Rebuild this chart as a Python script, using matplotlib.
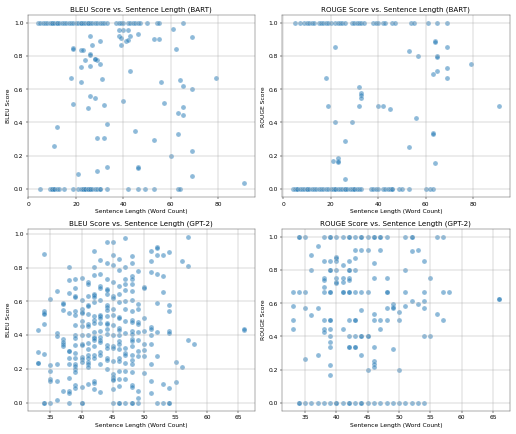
import matplotlib
matplotlib.use('Agg')
import matplotlib.pyplot as plt
import numpy as np

# ---- BART, BLEU ----
# lengths of sentences that scored exactly 1.0 / 0.0
bart_bleu_len_one = [4, 5, 6, 7, 8, 9, 10, 10, 11, 12, 12, 13, 14, 15, 16, 17, 18, 19, 20, 21, 22, 22,
                     23, 24, 25, 25, 26, 27, 28, 29, 30, 31, 32, 33, 37, 38, 39, 40, 42, 43, 44, 45,
                     46, 47, 50, 54, 55, 65]
bart_bleu_len_zero = [5, 9, 10, 10, 11, 11, 12, 13, 15, 19, 21, 22, 23, 23, 24, 24, 25, 25, 26, 26, 27,
                      28, 29, 30, 30, 33, 42, 46, 49, 53, 63, 64]
bart_bleu_len_mid = [61, 69, 26, 38, 40, 42, 46, 38, 39, 43, 41, 42, 39, 53, 55, 30, 27, 19, 19, 22, 23,
                     26, 26, 62, 28, 29, 28, 24, 30, 22, 26, 43, 18, 31, 79, 64, 22, 56, 65, 69, 26,
                     28, 40, 57, 19, 32, 65, 25, 63, 65, 33, 12, 45, 63, 29, 32, 53, 11, 69, 60, 33,
                     46, 46, 29, 21, 69, 91]
bart_bleu_score_mid = [0.963, 0.915, 0.92, 0.955, 0.955, 0.955, 0.935, 0.92, 0.91, 0.92, 0.89, 0.895,
                       0.87, 0.905, 0.905, 0.89, 0.87, 0.85, 0.843, 0.84, 0.835, 0.815, 0.81, 0.843,
                       0.785, 0.775, 0.78, 0.775, 0.755, 0.735, 0.74, 0.71, 0.67, 0.665, 0.668, 0.655,
                       0.645, 0.645, 0.623, 0.602, 0.558, 0.548, 0.532, 0.52, 0.509, 0.505, 0.495,
                       0.487, 0.455, 0.447, 0.392, 0.37, 0.35, 0.333, 0.308, 0.308, 0.296, 0.257,
                       0.23, 0.2, 0.13, 0.13, 0.127, 0.11, 0.087, 0.077, 0.035]

# ---- BART, ROUGE ----
bart_rouge_len_one = [5, 7, 9, 10, 11, 12, 13, 15, 16, 17, 18, 19, 20, 22, 23, 24, 25, 26, 29, 30, 31,
                      32, 33, 34, 38, 39, 40, 42, 43, 46, 47, 54, 55, 61, 65, 69]
bart_rouge_len_zero = [4, 5, 6, 6, 7, 8, 9, 10, 10, 11, 12, 13, 14, 15, 16, 17, 18, 19, 20, 21, 22, 22,
                       23, 24, 25, 26, 26, 27, 28, 29, 30, 30, 31, 32, 33, 37, 38, 39, 40, 42, 43, 44,
                       45, 46, 46, 49, 50, 53, 60, 62, 63]
bart_rouge_len_mid = [64, 64, 22, 53, 57, 65, 65, 69, 79, 69, 65, 63, 69, 18, 32, 33, 33, 33, 19, 32,
                      40, 42, 45, 91, 56, 22, 29, 63, 63, 26, 53, 21, 23, 23, 23, 64, 26]
bart_rouge_score_mid = [0.89, 0.885, 0.855, 0.834, 0.80, 0.80, 0.797, 0.855, 0.75, 0.727, 0.712, 0.694,
                        0.667, 0.667, 0.615, 0.577, 0.563, 0.549, 0.5, 0.5, 0.5, 0.5, 0.482, 0.5,
                        0.428, 0.4, 0.4, 0.335, 0.332, 0.287, 0.253, 0.17, 0.184, 0.17, 0.163, 0.153,
                        0.06]

# ---- GPT-2, BLEU ----
gpt2_bleu_len = ([33] * 4 + [34] * 8 + [35] * 6 + [36] * 6 + [37] * 8 + [38] * 12 + [39] * 18
                 + [40] * 16 + [41] * 17 + [42] * 20 + [43] * 17 + [44] * 19 + [45] * 19 + [46] * 20
                 + [47] * 16 + [48] * 23 + [49] * 12 + [50] * 8 + [51] * 10 + [52] * 8 + [53] * 5
                 + [54] * 8 + [55] * 2 + [56] * 2 + [57] * 3 + [58] + [66] * 2)
gpt2_bleu_score = [
    0.433, 0.298, 0.232, 0.236,
    0.882, 0.54, 0.532, 0.526, 0.468, 0.29, 0.0, 0.0,
    0.611, 0.222, 0.19, 0.143, 0.128, 0.0,
    0.663, 0.412, 0.395, 0.228, 0.128, 0.014,
    0.588, 0.584, 0.549, 0.375, 0.362, 0.35, 0.337, 0.068,
    0.805, 0.725, 0.65, 0.532, 0.308, 0.304, 0.263, 0.23, 0.147, 0.072, 0.058, 0.0,
    0.733, 0.681, 0.629, 0.623, 0.545, 0.52, 0.462, 0.4, 0.385, 0.342, 0.292, 0.263, 0.228,
    0.219, 0.197, 0.182, 0.103, 0.087,
    0.739, 0.605, 0.557, 0.534, 0.528, 0.482, 0.451, 0.402, 0.346, 0.34, 0.273, 0.259, 0.242,
    0.093, 0.0, 0.0,
    0.712, 0.702, 0.629, 0.578, 0.571, 0.522, 0.464, 0.455, 0.402, 0.354, 0.315, 0.28, 0.265,
    0.238, 0.228, 0.211, 0.112,
    0.899, 0.803, 0.754, 0.642, 0.636, 0.625, 0.594, 0.511, 0.491, 0.47, 0.42, 0.387, 0.381,
    0.371, 0.337, 0.28, 0.263, 0.126, 0.114, 0.081,
    0.847, 0.76, 0.692, 0.681, 0.605, 0.52, 0.511, 0.499, 0.47, 0.427, 0.387, 0.373, 0.358,
    0.302, 0.284, 0.228, 0.064,
    0.952, 0.828, 0.735, 0.673, 0.665, 0.642, 0.578, 0.565, 0.549, 0.511, 0.47, 0.466, 0.435,
    0.404, 0.34, 0.325, 0.265, 0.251, 0.199,
    0.954, 0.876, 0.812, 0.714, 0.629, 0.617, 0.553, 0.52, 0.46, 0.402, 0.337, 0.325, 0.248,
    0.168, 0.153, 0.143, 0.135, 0.079, 0.0,
    0.853, 0.785, 0.692, 0.642, 0.594, 0.507, 0.499, 0.443, 0.433, 0.398, 0.366, 0.35, 0.317,
    0.265, 0.246, 0.188, 0.143, 0.099, 0.0, 0.0,
    0.975, 0.805, 0.735, 0.702, 0.665, 0.6, 0.555, 0.484, 0.41, 0.321, 0.292, 0.28, 0.232,
    0.19, 0.139, 0.0,
    0.87, 0.826, 0.747, 0.731, 0.702, 0.66, 0.607, 0.545, 0.489, 0.478, 0.422, 0.408, 0.377,
    0.366, 0.337, 0.28, 0.255, 0.228, 0.184, 0.103, 0.095, 0.0, 0.0,
    0.781, 0.584, 0.555, 0.478, 0.466, 0.42, 0.373, 0.304, 0.277, 0.068, 0.029, 0.0,
    0.687, 0.677, 0.501, 0.422, 0.35, 0.311, 0.277, 0.174,
    0.9, 0.836, 0.776, 0.449, 0.435, 0.398, 0.346, 0.23, 0.13, 0.06,
    0.923, 0.917, 0.876, 0.762, 0.59, 0.42, 0.275, 0.0,
    0.876, 0.747, 0.658, 0.108, 0.0,
    0.894, 0.578, 0.542, 0.424, 0.414, 0.087, 0.0, 0.0,
    0.24, 0.122,
    0.836, 0.209,
    0.981, 0.807, 0.369,
    0.346,
    0.433, 0.435]

# ---- GPT-2, ROUGE ----
gpt2_rouge_len = ([33] * 4 + [34] * 5 + [35] * 5 + [36] * 4 + [37] * 4 + [38] * 10 + [39] * 16
                  + [40] * 10 + [41] * 8 + [42] * 15 + [43] * 11 + [44] * 10 + [45] * 7 + [46] * 11
                  + [47] * 6 + [48] * 7 + [49] * 5 + [50] * 4 + [51] * 5 + [52] * 5 + [53] * 3
                  + [54] * 6 + [55] * 2 + [56] * 2 + [57] * 3 + [58] + [66] * 2)
gpt2_rouge_score = [
    0.667, 0.586, 0.5, 0.443,
    1.0, 1.0, 0.667, 0.0, 0.0,
    1.0, 0.667, 0.573, 0.265, 0.0,
    0.892, 0.8, 0.532, 0.0,
    0.948, 0.571, 0.286, 0.0,
    1.0, 0.855, 0.75, 0.743, 0.696, 0.667, 0.5, 0.443, 0.429, 0.0,
    1.0, 1.0, 0.855, 0.8, 0.8, 0.667, 0.667, 0.5, 0.5, 0.443, 0.4, 0.364, 0.333, 0.226, 0.17, 0.0,
    1.0, 0.88, 0.872, 0.855, 0.8, 0.75, 0.727, 0.72, 0.0, 0.0,
    1.0, 0.832, 0.75, 0.727, 0.667, 0.667, 0.443, 0.0,
    1.0, 1.0, 0.855, 0.8, 0.8, 0.75, 0.743, 0.667, 0.667, 0.5, 0.4, 0.333, 0.333, 0.0, 0.0,
    1.0, 0.923, 0.872, 0.8, 0.667, 0.5, 0.5, 0.4, 0.333, 0.333, 0.0,
    1.0, 1.0, 0.923, 0.667, 0.557, 0.4, 0.4, 0.286, 0.0, 0.0,
    1.0, 0.923, 0.667, 0.4, 0.4, 0.2, 0.0,
    1.0, 1.0, 0.845, 0.75, 0.536, 0.5, 0.333, 0.253, 0.232, 0.215, 0.0,
    1.0, 1.0, 0.923, 0.5, 0.443, 0.0,
    1.0, 0.75, 0.667, 0.667, 0.571, 0.5, 0.0,
    0.598, 0.578, 0.571, 0.325, 0.0,
    0.547, 0.5, 0.2, 0.0,
    1.0, 0.803, 0.667, 0.582, 0.0,
    1.0, 1.0, 0.913, 0.613, 0.0,
    0.923, 0.598, 0.0,
    0.855, 0.667, 0.613, 0.571, 0.4, 0.0,
    0.752, 0.4,
    1.0, 0.536,
    1.0, 0.667, 0.5,
    0.667,
    0.627, 0.625]


def with_edges(len_one, len_zero, len_mid, score_mid):
    x = list(len_one) + list(len_zero) + list(len_mid)
    y = [1.0] * len(len_one) + [0.0] * len(len_zero) + list(score_mid)
    return x, y


bart_bleu_x, bart_bleu_y = with_edges(bart_bleu_len_one, bart_bleu_len_zero,
                                      bart_bleu_len_mid, bart_bleu_score_mid)
bart_rouge_x, bart_rouge_y = with_edges(bart_rouge_len_one, bart_rouge_len_zero,
                                        bart_rouge_len_mid, bart_rouge_score_mid)

panels = [
    (bart_bleu_x, bart_bleu_y, 'BLEU Score vs. Sentence Length (BART)', 'BLEU Score'),
    (bart_rouge_x, bart_rouge_y, 'ROUGE Score vs. Sentence Length (BART)', 'ROUGE Score'),
    (gpt2_bleu_len, gpt2_bleu_score, 'BLEU Score vs. Sentence Length (GPT-2)', 'BLEU Score'),
    (gpt2_rouge_len, gpt2_rouge_score, 'ROUGE Score vs. Sentence Length (GPT-2)', 'ROUGE Score'),
]

fig, axes = plt.subplots(2, 2, figsize=(12, 10.1), dpi=43)

for ax, (x, y, title, ylabel) in zip(axes.flat, panels):
    ax.scatter(x, y, s=70, color='#1f77b4', alpha=0.5, edgecolor='white', linewidth=0.6)
    ax.set_title(title)
    ax.set_xlabel('Sentence Length (Word Count)')
    ax.set_ylabel(ylabel)
    ax.grid(True)
    for sp in ax.spines.values():
        sp.set_color('#555555')

plt.tight_layout()
plt.savefig('out.png', dpi=43)
